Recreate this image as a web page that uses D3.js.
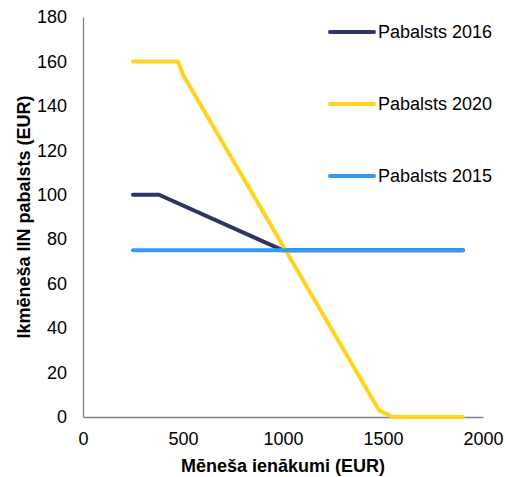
<!DOCTYPE html>
<html><head><meta charset="utf-8">
<script src="https://cdn.jsdelivr.net/npm/d3@7"></script>
<style>body{margin:0;background:#fff}svg{display:block}text{font-family:"Liberation Sans",Arial,sans-serif}</style>
</head><body>
<svg id="c" width="505" height="477"></svg>
<script>
const xTicks = [0, 500, 1000, 1500, 2000];
const yTicks = [0, 20, 40, 60, 80, 100, 120, 140, 160, 180];
const seriesNames = ["Pabalsts 2016", "Pabalsts 2020", "Pabalsts 2015"];
const s2016 = [[250,100],[380,100],[1000,75],[1900,75]];
const s2020 = [[250,160],[475,160],[500,154],[1480,3],[1550,0],[1900,0]];
const s2015 = [[250,75],[1900,75]];
const colors = ["#2E3467", "#FFD31E", "#3399F5"];

const svg = d3.select("#c");
const m = {l:83, r:22, t:17, b:60};
const W = 505, H = 477;
const x = d3.scaleLinear().domain([0,2000]).range([m.l, W-m.r]);
const y = d3.scaleLinear().domain([0,180]).range([H-m.b, m.t]);

const xa = svg.append("g").attr("transform",`translate(0,${y(0)})`)
  .call(d3.axisBottom(x).tickValues(xTicks).tickFormat(d3.format("d")).tickSize(0).tickPadding(15));
const ya = svg.append("g").attr("transform",`translate(${x(0)},0)`)
  .call(d3.axisLeft(y).tickValues(yTicks).tickFormat(d3.format("d")).tickSize(0).tickPadding(16));
[xa,ya].forEach(a=>{
  a.select(".domain").attr("stroke","#808080").attr("stroke-width",1.3);
  a.selectAll("text").attr("font-size",18).attr("fill","#000").attr("font-family","Liberation Sans, Arial, sans-serif");
});

const line = d3.line().x(d=>x(d[0])).y(d=>y(d[1]));
[s2016, s2020, s2015].forEach((s,i)=>{
  svg.append("path").datum(s).attr("d",line).attr("fill","none")
    .attr("stroke",colors[i]).attr("stroke-width",4)
    .attr("stroke-linecap","round").attr("stroke-linejoin","round");
});

const legY = [32, 104, 176];
seriesNames.forEach((n,i)=>{
  svg.append("line").attr("x1",330).attr("x2",374).attr("y1",legY[i]).attr("y2",legY[i])
    .attr("stroke",colors[i]).attr("stroke-width",4).attr("stroke-linecap","round");
  svg.append("text").attr("x",378).attr("y",legY[i]).attr("dy","0.35em")
    .attr("font-size",18).text(n);
});

svg.append("text").attr("x",(x(0)+x(2000))/2).attr("y",472).attr("text-anchor","middle")
  .attr("font-size",18).attr("font-weight","bold").text("Mēneša ienākumi (EUR)");
svg.append("text").attr("transform",`translate(24,${(y(0)+y(180))/2}) rotate(-90)`)
  .attr("text-anchor","middle").attr("dy","0.35em").attr("font-size",18).attr("font-weight","bold")
  .text("Ikmēneša IIN pabalsts (EUR)");
</script>
</body></html>
